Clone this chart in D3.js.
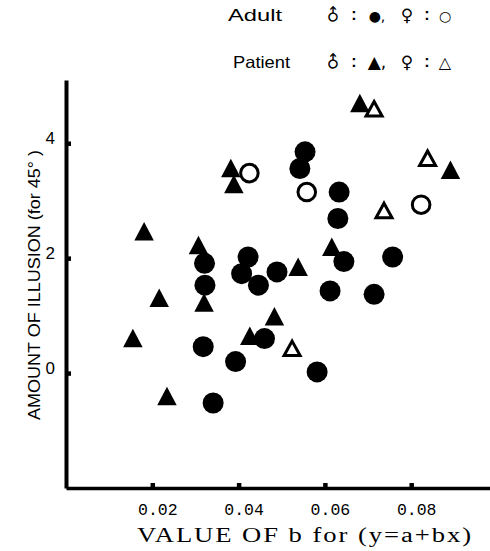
<!DOCTYPE html>
<html>
<head>
<meta charset="utf-8">
<script src="https://cdn.jsdelivr.net/npm/d3@7"></script>
<style>
  html, body { margin: 0; padding: 0; background: #fff; }
  svg { display: block; }
</style>
</head>
<body>
<svg id="chart" width="490" height="551"></svg>
<script>
// ---- data ----
const adultMaleB   = [0.0321,0.0322,0.0422,0.0407,0.0446,0.0489,0.0612,0.0460,0.0318,0.0393,0.0341,0.0554,0.0542,0.0633,0.0630,0.0644,0.0757,0.0714,0.0582];
const adultMaleY   = [1.91,1.53,2.02,1.73,1.53,1.76,1.43,0.60,0.46,0.20,-0.52,3.85,3.56,3.15,2.69,1.94,2.02,1.37,0.02];
const adultFemaleB = [0.0425,0.0558,0.0823];
const adultFemaleY = [3.48,3.15,2.93];
const patientMaleB = [0.0382,0.0389,0.0181,0.0307,0.0320,0.0216,0.0155,0.0234,0.0426,0.0483,0.0538,0.0616,0.0681,0.0891];
const patientMaleY = [3.57,3.29,2.47,2.23,1.23,1.31,0.61,-0.40,0.65,0.99,1.85,2.20,4.70,3.54];
const patientFemaleB = [0.0714,0.0838,0.0737,0.0524];
const patientFemaleY = [4.60,3.74,2.83,0.43];

const xTicks = [0.02, 0.04, 0.06, 0.08];
const xTickLabels = ["0.02", "0.04", "0.06", "0.08"];
const yTicks = [0, 2, 4];
const yTickLabels = ["0", "2", "4"];

const xTitle = "VALUE OF b for (y=a+bx)";
const yTitle = "AMOUNT OF ILLUSION (for 45° )";

// ---- chart ----
const svg = d3.select("#chart");
const x = d3.scaleLinear().domain([0, 0.1]).range([66, 497.5]);
const y = d3.scaleLinear().domain([-2, 5.1]).range([488, 80]);

const zip = (a, b) => a.map((v, i) => ({b: v, v: b[i]}));

// axes
const gx = svg.append("g").attr("transform", `translate(0,${y(-2)})`)
  .call(d3.axisBottom(x).tickValues(xTicks).tickFormat((d, i) => xTickLabels[i])
        .tickSizeInner(-5).tickSizeOuter(0).tickPadding(15));
gx.select(".domain").attr("stroke", "#000").attr("stroke-width", 3.5);
gx.selectAll(".tick line").attr("stroke", "#000").attr("stroke-width", 4.5);
gx.selectAll(".tick text").attr("font-family", "'Liberation Mono', monospace")
  .attr("font-size", 16.5).attr("fill", "#000").attr("dx", 5);

const gy = svg.append("g").attr("transform", `translate(${x(0)},0)`)
  .call(d3.axisLeft(y).tickValues(yTicks).tickFormat((d, i) => yTickLabels[i])
        .tickSizeInner(-5).tickSizeOuter(0).tickPadding(11));
gy.select(".domain").attr("stroke", "#000").attr("stroke-width", 4);
gy.selectAll(".tick line").attr("stroke", "#000").attr("stroke-width", 4.5);
gy.selectAll(".tick text").attr("font-family", "'Liberation Sans Narrow', 'Liberation Sans', Arial, sans-serif")
  .attr("font-size", 17).attr("fill", "#000").attr("dy", "0.0em");

// titles
svg.append("text").attr("x", 137).attr("y", 542)
  .attr("font-family", "'Liberation Serif', 'DejaVu Serif', serif").attr("font-size", 20.5)
  .attr("letter-spacing", 1.5)
  .attr("textLength", 336).attr("lengthAdjust", "spacingAndGlyphs").attr("fill", "#000").text(xTitle);

svg.append("text").attr("transform", "translate(40,420) rotate(-90)")
  .attr("font-family", "'Liberation Sans Narrow', 'Liberation Sans', Arial, sans-serif").attr("font-size", 16.5)
  .attr("textLength", 270).attr("lengthAdjust", "spacingAndGlyphs")
  .attr("fill", "#000").text(yTitle);

// marks
const triPath = (cx, cy, w, h) => `M${cx},${cy - h / 2}L${cx + w / 2},${cy + h / 2}L${cx - w / 2},${cy + h / 2}Z`;

svg.append("g").selectAll("circle").data(zip(adultMaleB, adultMaleY)).join("circle")
  .attr("cx", d => x(d.b)).attr("cy", d => y(d.v)).attr("r", 10.5).attr("fill", "#000");

svg.append("g").selectAll("path").data(zip(patientMaleB, patientMaleY)).join("path")
  .attr("d", d => triPath(x(d.b), y(d.v), 19.5, 18.5)).attr("fill", "#000");

svg.append("g").selectAll("circle").data(zip(adultFemaleB, adultFemaleY)).join("circle")
  .attr("cx", d => x(d.b)).attr("cy", d => y(d.v)).attr("r", 8.8)
  .attr("fill", "#fff").attr("stroke", "#000").attr("stroke-width", 3);

svg.append("g").selectAll("path").data(zip(patientFemaleB, patientFemaleY)).join("path")
  .attr("d", d => triPath(x(d.b), y(d.v), 16, 14.5))
  .attr("fill", "#fff").attr("stroke", "#000").attr("stroke-width", 3).attr("stroke-linejoin", "miter");

// legend
const leg = svg.append("g").attr("font-family", "'Liberation Sans', Arial, sans-serif").attr("fill", "#000");
const legendRows = [
  {label: "Adult", lx: 228, len: 54, cy: 15, male: "●", female: "○", size: 14, fsize: 14},
  {label: "Patient", lx: 233, len: 57, cy: 62, male: "▲", female: "△", size: 17, fsize: 16}
];
legendRows.forEach(r => {
  leg.append("text").attr("x", r.lx).attr("y", r.cy + 6).attr("font-size", 16.5)
    .attr("textLength", r.len).attr("lengthAdjust", "spacingAndGlyphs").text(r.label);
  leg.append("text").attr("transform", `translate(333,${r.cy}) rotate(-45)`)
    .attr("text-anchor", "middle").attr("dy", "0.35em")
    .attr("font-family", "'DejaVu Sans', sans-serif").attr("font-size", 17).text("♂");
  leg.append("text").attr("x", 354).attr("y", r.cy + 5).attr("text-anchor", "middle")
    .attr("font-size", 16).attr("font-weight", "bold").text(":");
  leg.append("text").attr("x", 377).attr("y", r.cy + 5.5).attr("text-anchor", "middle")
    .attr("font-family", "'DejaVu Sans', sans-serif").attr("font-size", r.size).text(r.male + ",");
  leg.append("text").attr("x", 407).attr("y", r.cy + 6).attr("text-anchor", "middle")
    .attr("font-family", "'DejaVu Sans', sans-serif").attr("font-size", 17).text("♀");
  leg.append("text").attr("x", 427).attr("y", r.cy + 5).attr("text-anchor", "middle")
    .attr("font-size", 16).attr("font-weight", "bold").text(":");
  leg.append("text").attr("x", 445).attr("y", r.cy + 5.5).attr("text-anchor", "middle")
    .attr("font-family", "'DejaVu Sans', sans-serif").attr("font-size", r.fsize).text(r.female);
});
</script>
</body>
</html>
